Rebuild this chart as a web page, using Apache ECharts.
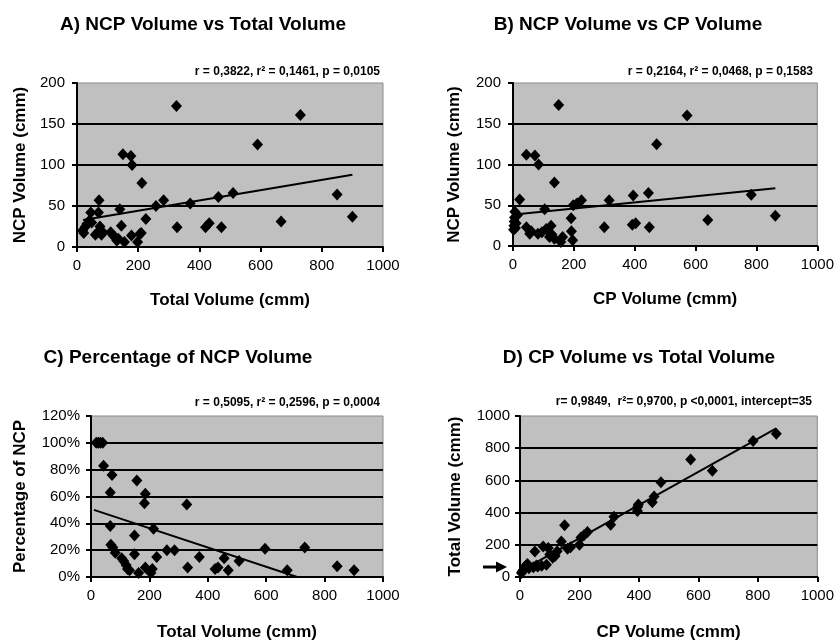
<!DOCTYPE html>
<html>
<head>
<meta charset="utf-8">
<script src="https://cdn.jsdelivr.net/npm/echarts@6/dist/echarts.min.js"></script>
<style>
html,body{margin:0;padding:0;background:#fff;}
#chart{width:837px;height:642px;}
</style>
</head>
<body>
<div id="chart"></div>
<script>
// ---------------- DATA ----------------
// Panel A: NCP Volume vs Total Volume
const aTotal = [18,22,28,32,40,45,48,60,68,70,72,75,80,85,110,118,125,130,135,140,145,150,155,176,178,180,198,205,210,212,225,258,283,325,327,370,420,432,462,472,510,590,667,730,850,900];
const aNcp   = [20,17,25,28,32,42,30,15,18,42,57,25,15,18,18,14,12,8,10,46,26,113,6,111,14,100,6,16,17,78,34,50,57,172,24,53,24,29,61,24,66,125,31,161,64,37];
const aTrend = [[20, 33], [900, 88]];

// Panel B: NCP Volume vs CP Volume
const bCp  = [2,3,4,5,6,8,10,15,22,44,44,55,60,72,82,84,95,104,109,120,125,128,136,136,150,157,163,191,192,196,198,210,225,300,316,395,392,403,445,448,472,572,640,783,862];
const bNcp = [20,25,30,35,42,22,28,38,57,112,23,15,18,111,15,100,17,45,21,11,25,14,78,9,173,5,11,34,18,7,50,52,56,23,56,62,26,28,65,23,125,160,32,63,37];
const bTrend = [[5, 38.7], [862, 71]];

// Panel C: Percentage of NCP Volume vs Total Volume
const cTotal = [18,25,32,40,43,72,157,66,186,183,328,66,214,149,68,75,83,105,112,120,125,132,149,163,186,205,210,225,260,286,371,331,425,435,456,470,507,596,672,732,843,901];
const cPct   = [100,100,100,100,83,76,72,63,62,55,54,38,36,31,24,22,18,14,12,9,6,5,17,3,7,3,6,15,20,20,15,7,6,7,14,5,12,21,5,22,8,5];
const cTrend = [[10, 50], [706, 0]];

// Panel D: Total Volume vs CP Volume
const dCp    = [5,8,12,15,20,25,30,45,50,55,60,73,78,89,95,100,110,118,125,139,150,160,170,200,205,215,227,305,316,395,396,398,445,451,474,574,647,784,862];
const dTotal = [25,35,45,60,70,80,55,60,158,72,65,70,190,76,180,140,120,130,160,220,322,175,185,200,245,260,280,324,375,410,437,450,465,500,588,730,660,845,890];
const dTrend = [[0, 35], [862, 923]];

const xTicks = [0, 200, 400, 600, 800, 1000];

// ---------------- CHART ----------------
const FONT = "'Liberation Sans', Arial, sans-serif";
const chart = echarts.init(document.getElementById('chart'), null, {renderer: 'canvas'});

function zip(xs, ys) { return xs.map((x, i) => [x, ys[i]]); }

const grids = [
  {left: 77, top: 83, width: 306, height: 164},
  {left: 513, top: 83, width: 306, height: 163},
  {left: 91, top: 416, width: 292, height: 162},
  {left: 520, top: 416, width: 299, height: 161}
].map(g => Object.assign({show: true, backgroundColor: '#c0c0c0', borderColor: '#8a8a8a', borderWidth: 1}, g));

function xAxis(i, name, gap) {
  return {
    gridIndex: i, type: 'value', min: xTicks[0], max: xTicks[xTicks.length - 1], interval: 200,
    name: name, nameLocation: 'middle', nameGap: gap,
    nameTextStyle: {fontFamily: FONT, fontWeight: 'bold', fontSize: 17, color: '#000'},
    axisLine: {show: true, onZero: false, lineStyle: {color: '#000', width: 2}},
    axisTick: {show: true, length: 5, lineStyle: {color: '#000', width: 2}},
    axisLabel: {fontFamily: FONT, fontSize: 15, color: '#000', margin: 11, formatter: v => String(v)},
    splitLine: {show: false}
  };
}
function yAxis(i, name, gap, max, interval, pct, margin) {
  return {
    gridIndex: i, type: 'value', min: 0, max: max, interval: interval,
    name: name, nameLocation: 'middle', nameGap: gap,
    nameTextStyle: {fontFamily: FONT, fontWeight: 'bold', fontSize: 17, color: '#000'},
    axisLine: {show: true, onZero: false, lineStyle: {color: '#000', width: 2}},
    axisTick: {show: true, length: 5, lineStyle: {color: '#000', width: 2}},
    axisLabel: {fontFamily: FONT, fontSize: 15, color: '#000', margin: margin,
      formatter: pct ? (v => v + '%') : (v => String(v))},
    splitLine: {show: true, showMinLine: false, showMaxLine: false, lineStyle: {color: '#000', width: 2}}
  };
}

function scatter(i, data) {
  return {type: 'scatter', xAxisIndex: i, yAxisIndex: i, data: data, symbol: 'diamond',
    symbolSize: [11, 12], itemStyle: {color: '#000', opacity: 1}, silent: true, z: 3};
}
function trend(i, data) {
  return {type: 'line', xAxisIndex: i, yAxisIndex: i, data: data, symbol: 'none',
    lineStyle: {color: '#000', width: 2}, silent: true, z: 4};
}

function txt(text, x, y, font, align) {
  return {type: 'text', x: x, y: y, silent: true,
    style: {text: text, font: font, fill: '#000', align: align, verticalAlign: 'middle',
            textAlign: align, textVerticalAlign: 'middle'}};
}
const TF = 'bold 19px ' + FONT;
const SF = 'bold 12px ' + FONT;

chart.setOption({
  animation: false,
  backgroundColor: '#fff',
  grid: grids,
  xAxis: [
    xAxis(0, 'Total Volume (cmm)', 45),
    xAxis(1, 'CP Volume (cmm)', 45),
    xAxis(2, 'Total Volume (cmm)', 47),
    xAxis(3, 'CP Volume (cmm)', 47)
  ],
  yAxis: [
    yAxis(0, 'NCP Volume (cmm)', 48, 200, 50, false, 12),
    yAxis(1, 'NCP Volume (cmm)', 50, 200, 50, false, 12),
    yAxis(2, 'Percentage of NCP', 62, 120, 20, true, 11),
    yAxis(3, 'Total Volume (cmm)', 56, 1000, 200, false, 10)
  ],
  series: [
    scatter(0, zip(aTotal, aNcp)), trend(0, aTrend),
    scatter(1, zip(bCp, bNcp)), trend(1, bTrend),
    scatter(2, zip(cTotal, cPct)), trend(2, cTrend),
    scatter(3, zip(dCp, dTotal)), trend(3, dTrend)
  ],
  graphic: [
    txt('A) NCP Volume vs Total Volume', 203, 25, TF, 'center'),
    txt('B) NCP Volume vs CP Volume', 628, 25, TF, 'center'),
    txt('C) Percentage of NCP Volume', 178, 358, TF, 'center'),
    txt('D) CP Volume vs Total Volume', 639, 358, TF, 'center'),
    txt('r = 0,3822, r\u00b2 = 0,1461, p = 0,0105', 380, 72, SF, 'right'),
    txt('r = 0,2164, r\u00b2 = 0,0468, p = 0,1583', 813, 72, SF, 'right'),
    txt('r = 0,5095, r\u00b2 = 0,2596, p = 0,0004', 380, 403, SF, 'right'),
    txt('r= 0,9849,  r\u00b2= 0,9700, p <0,0001, intercept=35', 812, 402, SF, 'right'),
    // arrow pointing at the intercept in panel D
    {type: 'rect', silent: true, shape: {x: 483, y: 565.5, width: 15, height: 3}, style: {fill: '#000'}},
    {type: 'polygon', silent: true, shape: {points: [[496, 561.5], [507, 567], [496, 572.5]]}, style: {fill: '#000'}}
  ]
});
</script>
</body>
</html>
